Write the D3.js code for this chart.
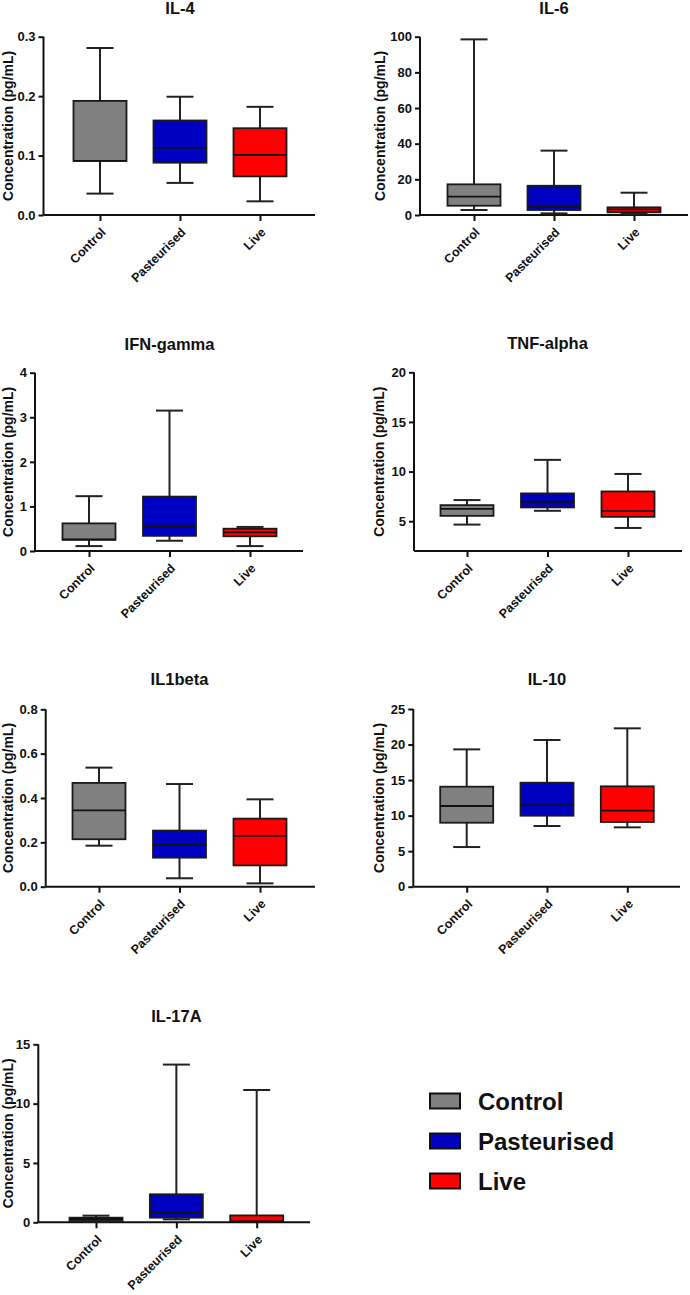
<!DOCTYPE html>
<html>
<head>
<meta charset="utf-8">
<script src="https://cdn.jsdelivr.net/npm/d3@7"></script>
<style>
  html, body { margin: 0; padding: 0; background: #fff; }
  svg { display: block; }
  text { font-family: "Liberation Sans", Arial, sans-serif; font-weight: bold; fill: #111; }
</style>
</head>
<body>
<svg id="chart" width="690" height="1295"></svg>
<script>
// ---------- DATA ----------
const groups = ["Control", "Pasteurised", "Live"];
const groupColors = ["#808080", "#0000c0", "#ff0000"];
const yLabel = "Concentration (pg/mL)";

const panelTitles = ["IL-4", "IL-6", "IFN-gamma", "TNF-alpha", "IL1beta", "IL-10", "IL-17A"];

// y-axis domains and tick values per panel
const il4Domain = [0, 0.3],   il4Ticks = [0, 0.1, 0.2, 0.3];
const il6Domain = [0, 100],   il6Ticks = [0, 20, 40, 60, 80, 100];
const ifnDomain = [0, 4],     ifnTicks = [0, 1, 2, 3, 4];
const tnfDomain = [2, 20],    tnfTicks = [5, 10, 15, 20];
const il1bDomain = [0, 0.8],  il1bTicks = [0, 0.2, 0.4, 0.6, 0.8];
const il10Domain = [0, 25],   il10Ticks = [0, 5, 10, 15, 20, 25];
const il17Domain = [0, 15],   il17Ticks = [0, 5, 10, 15];

// box stats per group: [min, q1, median, q3, max]  (Control, Pasteurised, Live)
const il4Stats = [[0.036, 0.091, 0.091, 0.192, 0.281], [0.054, 0.088, 0.113, 0.159, 0.199], [0.023, 0.065, 0.101, 0.146, 0.182]];
const il6Stats = [[2.8, 5.2, 10.3, 17.2, 98.5], [0.9, 2.8, 4.7, 16.4, 36.1], [0.7, 1.5, 3.2, 4.3, 12.5]];
const ifnStats = [[0.11, 0.25, 0.26, 0.62, 1.23], [0.23, 0.34, 0.55, 1.22, 3.15], [0.11, 0.33, 0.42, 0.50, 0.54]];
const tnfStats = [[4.66, 5.54, 6.25, 6.62, 7.13], [6.05, 6.39, 6.96, 7.80, 11.18], [4.32, 5.44, 6.01, 8.00, 9.76]];
const il1bStats = [[0.185, 0.214, 0.344, 0.468, 0.537], [0.038, 0.131, 0.189, 0.253, 0.463], [0.015, 0.096, 0.229, 0.307, 0.394]];
const il10Stats = [[5.58, 9.0, 11.35, 14.07, 19.32], [8.54, 9.99, 11.49, 14.63, 20.64], [8.35, 9.1, 10.69, 14.12, 22.28]];
const il17Stats = [[0.05, 0.11, 0.28, 0.39, 0.56], [0.25, 0.39, 0.84, 2.36, 13.29], [0.02, 0.05, 0.08, 0.58, 11.15]];

// ---------- LAYOUT (pixel geometry, separate from data) ----------
const layout = [
  { axisX: 43.5, right: 315, top: 36.7, bottom: 215,   cats: [100, 180, 260],     titleY: 14,    labelX: 13 },
  { axisX: 420,  right: 688, top: 36.7, bottom: 215,   cats: [474, 554, 634],     titleY: 14,    labelX: 385 },
  { axisX: 35,   right: 303, top: 372.7, bottom: 551,  cats: [89, 170, 250],      titleY: 350,   labelX: 13 },
  { axisX: 414,  right: 682, top: 372.3, bottom: 551,  cats: [467, 548, 628],     titleY: 349,   labelX: 384 },
  { axisX: 45.7, right: 315, top: 709.3, bottom: 886.7, cats: [99, 180, 260],     titleY: 685,   labelX: 13 },
  { axisX: 413.3, right: 680, top: 709, bottom: 886.7, cats: [466.7, 546.7, 627.3], titleY: 685, labelX: 384 },
  { axisX: 38.3, right: 310, top: 1044.3, bottom: 1222.3, cats: [96, 176, 256.7], titleY: 1021.7, labelX: 13 }
];

const domains = [il4Domain, il6Domain, ifnDomain, tnfDomain, il1bDomain, il10Domain, il17Domain];
const ticks = [il4Ticks, il6Ticks, ifnTicks, tnfTicks, il1bTicks, il10Ticks, il17Ticks];
const stats = [il4Stats, il6Stats, ifnStats, tnfStats, il1bStats, il10Stats, il17Stats];

const svg = d3.select("#chart");
const boxW = 53, capW = 27;

panelTitles.forEach((title, i) => {
  const L = layout[i];
  const g = svg.append("g");
  const y = d3.scaleLinear().domain(domains[i]).range([L.bottom, L.top]);
  const x = d3.scalePoint().domain(groups).range([L.cats[0], L.cats[2]]);

  const fmt = domains[i][1] < 1 ? d3.format(".1f") : d3.format("d");

  // y axis
  const yAxis = g.append("g").attr("transform", `translate(${L.axisX},0)`)
    .call(d3.axisLeft(y).tickValues(ticks[i]).tickFormat(fmt).tickSize(5).tickPadding(3));
  yAxis.select(".domain").attr("d", `M0,${L.bottom}V${L.top}`).attr("stroke", "#111").attr("stroke-width", 2);
  yAxis.selectAll(".tick line").attr("stroke", "#111").attr("stroke-width", 2);
  yAxis.selectAll(".tick text").style("font-size", "13px").style("font-family", "Liberation Sans, Arial, sans-serif").style("font-weight", "bold").attr("fill", "#111");

  // x axis
  const xAxis = g.append("g").attr("transform", `translate(0,${L.bottom})`)
    .call(d3.axisBottom(x).tickSize(6).tickPadding(3));
  xAxis.select(".domain").attr("d", `M${L.axisX},0H${L.right}`).attr("stroke", "#111").attr("stroke-width", 2);
  xAxis.selectAll(".tick line").attr("stroke", "#111").attr("stroke-width", 2);
  xAxis.selectAll(".tick text")
    .style("font-size", "12.5px").style("font-family", "Liberation Sans, Arial, sans-serif").style("font-weight", "bold").attr("fill", "#111")
    .attr("text-anchor", "end")
    .attr("dy", null).attr("y", 0)
    .attr("transform", "translate(6,18) rotate(-45)");

  // boxes
  stats[i].forEach((s, k) => {
    const cx = x(groups[k]);
    const [mn, q1, md, q3, mx] = s;
    const bg = g.append("g");
    bg.append("line").attr("x1", cx).attr("x2", cx).attr("y1", y(q3)).attr("y2", y(mx)).attr("stroke", "#222").attr("stroke-width", 2);
    bg.append("line").attr("x1", cx).attr("x2", cx).attr("y1", y(q1)).attr("y2", y(mn)).attr("stroke", "#222").attr("stroke-width", 2);
    bg.append("line").attr("x1", cx - capW / 2).attr("x2", cx + capW / 2).attr("y1", y(mx)).attr("y2", y(mx)).attr("stroke", "#222").attr("stroke-width", 2);
    bg.append("line").attr("x1", cx - capW / 2).attr("x2", cx + capW / 2).attr("y1", y(mn)).attr("y2", y(mn)).attr("stroke", "#222").attr("stroke-width", 2);
    bg.append("rect").attr("x", cx - boxW / 2).attr("width", boxW)
      .attr("y", y(q3)).attr("height", Math.max(0, y(q1) - y(q3)))
      .attr("fill", groupColors[k]).attr("stroke", "#1a1a1a").attr("stroke-width", 1.8);
    bg.append("line").attr("x1", cx - boxW / 2).attr("x2", cx + boxW / 2).attr("y1", y(md)).attr("y2", y(md)).attr("stroke", "#111").attr("stroke-width", 1.8);
  });

  // title
  g.append("text").attr("x", (L.cats[0] + L.cats[2]) / 2).attr("y", L.titleY)
    .attr("text-anchor", "middle").style("font-size", "16.5px").text(title);

  // y label
  g.append("text")
    .attr("transform", `translate(${L.labelX},${(L.top + L.bottom) / 2}) rotate(-90)`)
    .attr("text-anchor", "middle").style("font-size", "14px").text(yLabel);
});

// legend
const legend = svg.append("g");
const legendY = d3.scalePoint().domain(groups).range([1101, 1181]);
groups.forEach((name, k) => {
  const cy = legendY(name);
  legend.append("rect").attr("x", 430).attr("y", cy - 7.5).attr("width", 30).attr("height", 15)
    .attr("fill", groupColors[k]).attr("stroke", "#111").attr("stroke-width", 2);
  legend.append("text").attr("x", 478).attr("y", cy + 8.5).style("font-size", "24px").text(name);
});
</script>
</body>
</html>
